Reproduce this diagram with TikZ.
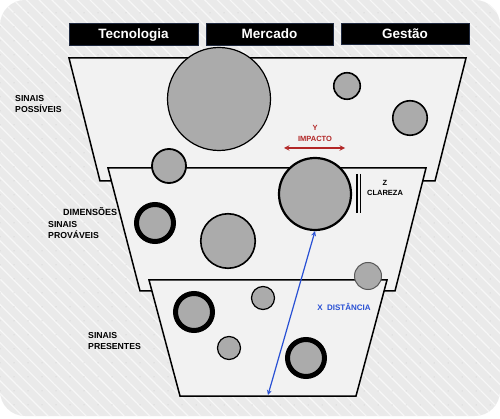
\documentclass[tikz,border=0pt]{standalone}
\usepackage{fontspec}
\setmainfont{Liberation Sans}
\usetikzlibrary{patterns.meta}
\definecolor{fundo}{RGB}{234,234,234}
\definecolor{funilcor}{RGB}{242,242,242}
\definecolor{sinalcor}{RGB}{171,171,171}
\definecolor{borda}{RGB}{30,40,62}
\definecolor{vermelho}{RGB}{178,38,38}
\definecolor{azul}{RGB}{40,80,212}
\begin{document}
\begin{tikzpicture}[x=1pt, y=-1pt, >=stealth,
  cabecalho/.style={draw=borda, fill=black, text=white, inner sep=0pt, line width=0.8pt,
    minimum height=22pt, text height=9.7pt, text depth=0pt,
    font=\fontsize{13.5}{13.5}\selectfont\bfseries},
  rotulo/.style={align=left, anchor=west, inner sep=0pt, font=\fontsize{8.7}{11}\selectfont\bfseries},
  funil/.style={draw=black, fill=funilcor, line width=1.5pt, line join=miter},
  sinal/.style={circle, draw=black, fill=sinalcor, inner sep=0pt}]
  % Fundo
  \useasboundingbox (0,0) rectangle (500,419);
  \fill[fundo, rounded corners=25pt] (0,0) rectangle (500,416);
  \fill[pattern={Lines[angle=-45, distance=9pt, line width=1.2pt]}, pattern color=white!60!fundo,
    rounded corners=25pt] (0,0) rectangle (500,416);
  \fill[pattern={Dots[distance=14pt, radius=0.5pt]}, pattern color=black!22,
    rounded corners=25pt] (0,0) rectangle (500,416);

  % Cabecalhos
  \node[cabecalho, minimum width=129pt] (tecnologia) at (133.5,34) {Tecnologia};
  \node[cabecalho, minimum width=127pt] (mercado) at (269.5,34) {Mercado};
  \node[cabecalho, minimum width=128pt, minimum height=21pt] (gestao) at (405,33.5) {Gestão};

  % Funil
  \draw[funil] (69,58) -- (466,58) -- (435,181) -- (100,181) -- cycle;
  \draw[funil] (108,168) -- (426,168) -- (395,291) -- (140,291) -- cycle;
  \draw[funil] (149,280) -- (387,280) -- (356,396) -- (180,396) -- cycle;

  % Sinais possiveis
  \node[sinal, line width=1.2pt, minimum size=103pt] (grande) at (219,99) {};
  \node[sinal, line width=1.6pt, minimum size=26.5pt] (possivelA) at (347,86) {};
  \node[sinal, line width=1.6pt, minimum size=34.5pt] (possivelB) at (410,118) {};
  \node[sinal, line width=1.8pt, minimum size=34pt] (possivelC) at (169,166) {};

  % Sinais provaveis
  \node[sinal, line width=2.2pt, minimum size=72pt] (impactante) at (315,194) {};
  \node[sinal, line width=5pt, minimum size=37pt] (provavelA) at (155,223) {};
  \node[sinal, line width=1.6pt, minimum size=54.5pt] (provavelB) at (228,241) {};
  \node[sinal, draw=black!65, line width=1pt, minimum size=27pt] (provavelC) at (368,276) {};

  % Sinais presentes
  \node[sinal, line width=5pt, minimum size=37pt] (presenteA) at (194,312) {};
  \node[sinal, line width=1.2pt, minimum size=23pt] (presenteB) at (263,298) {};
  \node[sinal, line width=1.2pt, minimum size=23pt] (presenteC) at (229,348) {};
  \node[sinal, line width=5pt, minimum size=37pt] (presenteD) at (306,358) {};

  % Rotulos
  \node[rotulo] (possiveis) at (15,104.5) {SINAIS\\POSSÍVEIS};
  \node[rotulo, font=\fontsize{9}{11}\selectfont\bfseries] (dimensoes) at (63,212) {DIMENSÕES};
  \node[rotulo] (provaveis) at (48,230.5) {SINAIS\\PROVÁVEIS};
  \node[rotulo] (presentes) at (88,341.5) {SINAIS\\PRESENTES};

  % Y impacto
  \node[align=center, inner sep=0pt, text=vermelho, font=\fontsize{7.5}{11}\selectfont\bfseries]
    (impacto) at (315,133.5) {Y\\IMPACTO};
  \coordinate (impactoE) at (284,148);
  \coordinate (impactoD) at (345,148);
  \draw[<->, vermelho, line width=1.4pt] (impactoE) -- (impactoD);

  % Z clareza
  \draw[line width=1.1pt] (357,174) -- (357,213);
  \draw[line width=1.1pt] (360.5,174) -- (360.5,213);
  \node[align=center, inner sep=0pt, font=\fontsize{7.5}{10}\selectfont\bfseries]
    (clareza) at (385,188) {Z\\CLAREZA};

  % X distancia
  \coordinate (base) at (268,395);
  \draw[<->, azul, line width=1.2pt] (base) -- (impactante.south);
  \node[inner sep=0pt, text=azul, font=\fontsize{8}{10}\selectfont\bfseries]
    (distancia) at (344,307) {X\ \ DISTÂNCIA};
\end{tikzpicture}
\end{document}
